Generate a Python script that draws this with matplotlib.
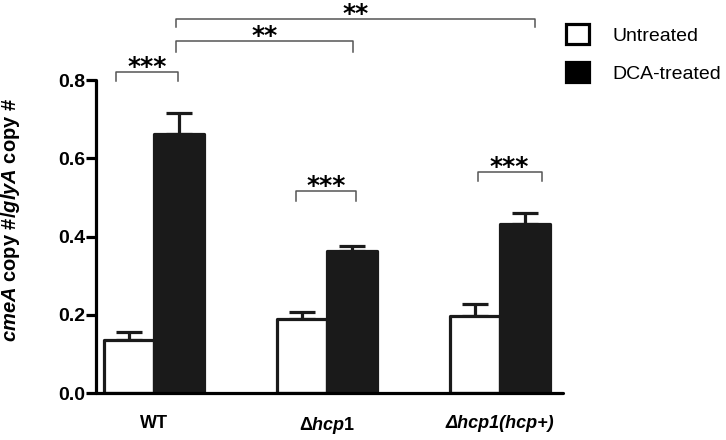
import matplotlib
matplotlib.use("Agg")
import matplotlib.pyplot as plt
from matplotlib.patches import Patch
import numpy as np

plt.rcParams["font.family"] = ["Liberation Sans", "DejaVu Sans"]
plt.rcParams["mathtext.fontset"] = "custom"
plt.rcParams["mathtext.rm"] = "Liberation Sans:bold"
plt.rcParams["mathtext.it"] = "Liberation Sans:italic:bold"
plt.rcParams["mathtext.bf"] = "Liberation Sans:bold"

# data
strains = ["WT", "Δ$\\mathit{hcp}$1", "Δhcp1(hcp+)"]
untreated = [0.135, 0.189, 0.197]
untreated_err = [0.021, 0.018, 0.031]
dca = [0.662, 0.363, 0.432]
dca_err = [0.054, 0.013, 0.028]
yticks = [0.0, 0.2, 0.4, 0.6, 0.8]

# significance brackets: (x_left, x_right, y_line, y_drop, label)
brackets = [
    (-0.22, 0.14, 0.820, 0.797, "***"),
    (0.13, 1.15, 0.900, 0.872, "**"),
    (0.13, 2.20, 0.956, 0.935, "**"),
    (0.82, 1.17, 0.516, 0.491, "***"),
    (1.87, 2.24, 0.565, 0.542, "***"),
]

W, H = 726, 440
fig = plt.figure(figsize=(W / 100, H / 100), dpi=100)
ax = fig.add_axes([96 / W, 47 / H, (563 - 96) / W, (393 - 80) / H])

x = np.arange(len(strains))
bw = 0.29
lw = 2.3

ax.errorbar(x - bw / 2, untreated, yerr=[np.zeros(3), untreated_err], fmt="none",
            ecolor="#1a1a1a", elinewidth=lw, capsize=9.5, capthick=lw, zorder=1)
ax.errorbar(x + bw / 2, dca, yerr=[np.zeros(3), dca_err], fmt="none",
            ecolor="#1a1a1a", elinewidth=lw, capsize=9.5, capthick=lw, zorder=1)
ax.bar(x - bw / 2, untreated, bw, color="white", edgecolor="#1a1a1a",
       linewidth=lw, joinstyle="round", zorder=2)
ax.bar(x + bw / 2, dca, bw, color="#1a1a1a", edgecolor="#1a1a1a",
       linewidth=lw, joinstyle="round", zorder=2)

for x0, x1, yl, yd, lab in brackets:
    ax.plot([x0, x0, x1, x1], [yd, yl, yl, yd], color="#555555", lw=1.1,
            clip_on=False, zorder=3)
    ax.annotate(lab, ((x0 + x1) / 2, yl), xytext=(0, -1.5), textcoords="offset points",
                ha="center", va="baseline", fontsize=18, fontweight="bold",
                family="DejaVu Sans", annotation_clip=False)

ax.set_xlim(-0.335, 2.364)
ax.set_ylim(0, 0.8)
ax.set_yticks(yticks)
ax.set_yticklabels([f"{v:.1f}" for v in yticks], fontsize=14, fontweight="bold")
ax.set_xticks(x)
ax.set_xticklabels(strains, fontsize=13, fontweight="bold")
ax.get_xticklabels()[2].set_fontstyle("italic")
ax.tick_params(axis="x", length=0, pad=16)
ax.tick_params(axis="y", length=7, width=lw, pad=1)
for s in ["top", "right"]:
    ax.spines[s].set_visible(False)
for s in ["left", "bottom"]:
    ax.spines[s].set_linewidth(lw)
    ax.spines[s].set_capstyle("round")

ax.set_ylabel("$\\mathit{cmeA}$ copy #/$\\mathit{glyA}$ copy #", fontsize=14.5,
              fontweight="bold")
ax.yaxis.set_label_coords(-0.158, 0.553)

handles = [Patch(facecolor="white", edgecolor="black", linewidth=lw, label="Untreated"),
           Patch(facecolor="black", edgecolor="black", linewidth=lw, label="DCA-treated")]
fig.legend(handles=handles, loc="upper left", bbox_to_anchor=(566 / W, 1 - 24 / H),
           frameon=False, fontsize=14, handlelength=1.2, handleheight=1.2,
           handletextpad=1.2, labelspacing=0.9, borderpad=0, borderaxespad=0)

fig.savefig("out.png", dpi=100)
